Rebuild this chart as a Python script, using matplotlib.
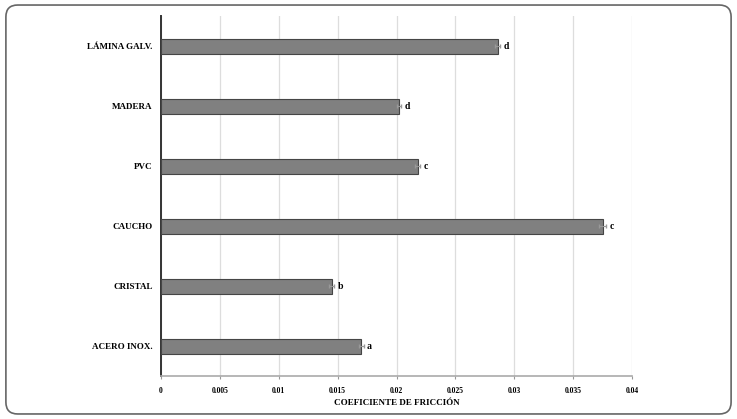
import matplotlib
matplotlib.use("Agg")
import matplotlib.pyplot as plt
from matplotlib.patches import FancyBboxPatch

# data
materiales = ["ACERO INOX.", "CRISTAL", "CAUCHO", "PVC", "MADERA", "LÁMINA GALV."]
coef = [0.0170, 0.0145, 0.0375, 0.0218, 0.0202, 0.0286]
error = [0.0002, 0.0002, 0.0003, 0.0002, 0.0002, 0.0002]
letras = ["a", "b", "c", "c", "d", "d"]
ticks_x = [0, 0.005, 0.01, 0.015, 0.02, 0.025, 0.03, 0.035, 0.04]
tick_labels = ["0", "0.005", "0.01", "0.015", "0.02", "0.025", "0.03", "0.035", "0.04"]

plt.rcParams["font.family"] = ["Liberation Serif", "DejaVu Serif"]
plt.rcParams["font.weight"] = "bold"

fig = plt.figure(figsize=(7.37, 4.19), dpi=100)
ax = fig.add_axes([0.2185, 0.1026, 0.639, 0.859])

# rounded frame around the whole chart
marco = FancyBboxPatch((0.008, 0.012), 0.984, 0.976, boxstyle="round,pad=0,rounding_size=0.016",
                       transform=fig.transFigure, facecolor="none", edgecolor="#666666",
                       linewidth=1.2, mutation_aspect=737 / 419)
fig.patches.append(marco)

y = list(range(len(materiales)))
ax.barh(y, coef, height=0.25, color="#808080", edgecolor="#454545", linewidth=0.8,
        xerr=error, error_kw=dict(ecolor="#999999", elinewidth=0.8, capsize=1.5), zorder=3)

for yi, v, e, l in zip(y, coef, error, letras):
    ax.text(v + e + 0.0003, yi, l, va="center", ha="left", fontsize=7, fontweight="bold")

ax.set_xlim(0, 0.04)
ax.set_ylim(-0.5, len(materiales) - 0.5)
ax.set_xticks(ticks_x)
ax.set_xticklabels(tick_labels, fontsize=5.5, fontweight="bold")
ax.set_yticks(y)
ax.set_yticklabels(materiales, fontsize=6.5, fontweight="bold")
ax.tick_params(axis="y", length=0, pad=6)
ax.tick_params(axis="x", length=2, color="#999999", pad=6)
ax.set_xlabel("COEFICIENTE DE FRICCIÓN", fontsize=6.5, fontweight="bold", labelpad=3)

ax.grid(axis="x", color="#dddddd", linewidth=0.9, zorder=0)
ax.set_axisbelow(True)
for s in ["top", "right"]:
    ax.spines[s].set_visible(False)
ax.spines["left"].set_color("#333333")
ax.spines["left"].set_linewidth(1.4)
ax.spines["bottom"].set_color("#aaaaaa")
ax.spines["bottom"].set_linewidth(1.2)

fig.savefig("out.png", dpi=100)
